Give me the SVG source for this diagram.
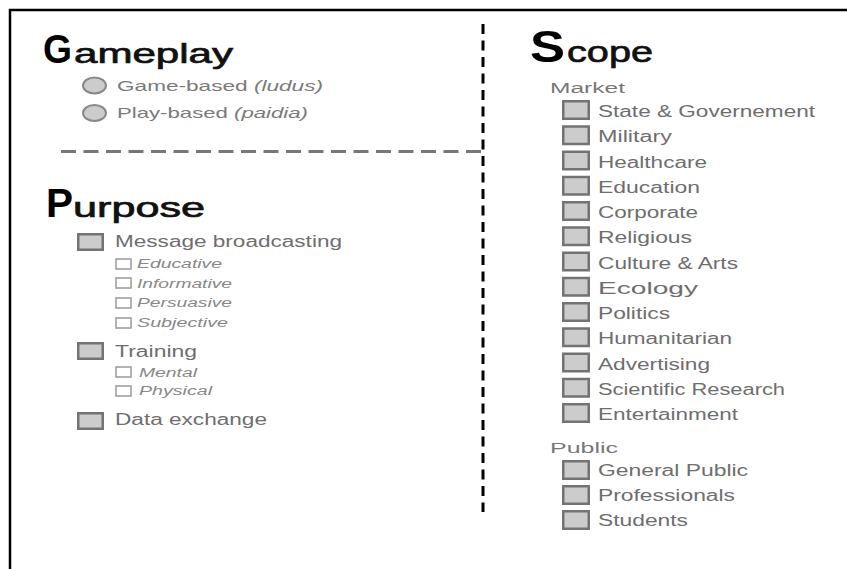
<svg xmlns="http://www.w3.org/2000/svg" width="847" height="569" viewBox="0 0 847 569">
<style>
text{font-family:"Liberation Sans",Arial,sans-serif}
.cap{font-size:41px;fill:#000;font-weight:bold}
.rest{font-size:28px;fill:#111;stroke:#111;stroke-width:0.7}
.item{font-size:16px;fill:#6e6e6e}
.sub{font-size:12px;fill:#888;font-style:italic}
.head{font-size:14px;fill:#777}
.opt{font-size:15px;fill:#7a7a7a}
.box{fill:#ccc;stroke:#737373;stroke-width:2.5}
.sbox{fill:#fff;stroke:#999;stroke-width:1.5}
.dot{fill:#ccc;stroke:#888;stroke-width:2}
</style>
<rect width="847" height="569" fill="#fff"/>
<g id="frame" fill="none" stroke="#000" stroke-width="2.5">
<path d="M10 569V10H847"/>
</g>
<g id="separators" fill="none">
<line x1="483" y1="24" x2="483" y2="512" stroke="#000" stroke-width="3" stroke-dasharray="10 6.5"/>
<line x1="61" y1="151.5" x2="483" y2="151.5" stroke="#777" stroke-width="3" stroke-dasharray="15 7.5"/>
</g>
<g id="gameplay">
<text x="43" y="63" class="cap" textLength="29" lengthAdjust="spacingAndGlyphs">G</text>
<text x="74" y="63" class="rest" textLength="159" lengthAdjust="spacingAndGlyphs">ameplay</text>
<g id="game-based"><ellipse class="dot" cx="94.5" cy="85.5" rx="11.5" ry="8"/><text x="117" y="91" class="opt" textLength="206" lengthAdjust="spacingAndGlyphs">Game-based <tspan font-style="italic">(ludus)</tspan></text></g>
<g id="play-based"><ellipse class="dot" cx="94.5" cy="113" rx="11.5" ry="8"/><text x="117" y="118" class="opt" textLength="191" lengthAdjust="spacingAndGlyphs">Play-based <tspan font-style="italic">(paidia)</tspan></text></g>
</g>
<g id="purpose">
<text x="46" y="217" class="cap" textLength="27" lengthAdjust="spacingAndGlyphs">P</text>
<text x="73" y="217" class="rest" textLength="132" lengthAdjust="spacingAndGlyphs">urpose</text>
<g id="message-broadcasting"><rect class="box" x="78.25" y="234.25" width="24.5" height="15.5"/><text x="115" y="247" class="item" textLength="227" lengthAdjust="spacingAndGlyphs">Message broadcasting</text></g>
<g id="educative"><rect class="sbox" x="116" y="259" width="15" height="10"/><text x="137" y="268" class="sub" textLength="85" lengthAdjust="spacingAndGlyphs">Educative</text></g>
<g id="informative"><rect class="sbox" x="116" y="278" width="15" height="10"/><text x="137" y="288" class="sub" textLength="95" lengthAdjust="spacingAndGlyphs">Informative</text></g>
<g id="persuasive"><rect class="sbox" x="116" y="298" width="15" height="10"/><text x="137" y="307" class="sub" textLength="95" lengthAdjust="spacingAndGlyphs">Persuasive</text></g>
<g id="subjective"><rect class="sbox" x="116" y="318" width="15" height="10"/><text x="137" y="327" class="sub" textLength="91" lengthAdjust="spacingAndGlyphs">Subjective</text></g>
<g id="training"><rect class="box" x="78.25" y="343.25" width="24.5" height="15.5"/><text x="115" y="357" class="item" textLength="82" lengthAdjust="spacingAndGlyphs">Training</text></g>
<g id="mental"><rect class="sbox" x="116" y="367" width="15" height="10"/><text x="139" y="377" class="sub" textLength="58" lengthAdjust="spacingAndGlyphs">Mental</text></g>
<g id="physical"><rect class="sbox" x="116" y="386" width="15" height="10"/><text x="139" y="395" class="sub" textLength="73" lengthAdjust="spacingAndGlyphs">Physical</text></g>
<g id="data-exchange"><rect class="box" x="78.25" y="413.25" width="24.5" height="15.5"/><text x="115" y="425" class="item" textLength="152" lengthAdjust="spacingAndGlyphs">Data exchange</text></g>
</g>
<g id="scope">
<text x="530" y="62" class="cap" style="font-size:44px" textLength="35" lengthAdjust="spacingAndGlyphs">S</text>
<text x="567" y="62" class="rest" style="font-size:30px" textLength="86" lengthAdjust="spacingAndGlyphs">cope</text>
<text x="550" y="93" class="head" textLength="75" lengthAdjust="spacingAndGlyphs">Market</text>
<g id="state"><rect class="box" x="563.25" y="101.25" width="25.5" height="17.5"/><text x="598" y="117" class="item" textLength="217" lengthAdjust="spacingAndGlyphs">State &amp; Governement</text></g>
<g id="military"><rect class="box" x="563.25" y="126.5" width="25.5" height="17.5"/><text x="598" y="142.25" class="item" textLength="74" lengthAdjust="spacingAndGlyphs">Military</text></g>
<g id="healthcare"><rect class="box" x="563.25" y="151.75" width="25.5" height="17.5"/><text x="598" y="167.5" class="item" textLength="109" lengthAdjust="spacingAndGlyphs">Healthcare</text></g>
<g id="education"><rect class="box" x="563.25" y="177" width="25.5" height="17.5"/><text x="598" y="192.75" class="item" textLength="102" lengthAdjust="spacingAndGlyphs">Education</text></g>
<g id="corporate"><rect class="box" x="563.25" y="202.25" width="25.5" height="17.5"/><text x="598" y="218" class="item" textLength="100" lengthAdjust="spacingAndGlyphs">Corporate</text></g>
<g id="religious"><rect class="box" x="563.25" y="227.5" width="25.5" height="17.5"/><text x="598" y="243.25" class="item" textLength="94" lengthAdjust="spacingAndGlyphs">Religious</text></g>
<g id="culture"><rect class="box" x="563.25" y="252.75" width="25.5" height="17.5"/><text x="598" y="268.5" class="item" textLength="140" lengthAdjust="spacingAndGlyphs">Culture &amp; Arts</text></g>
<g id="ecology"><rect class="box" x="563.25" y="278" width="25.5" height="17.5"/><text x="598" y="293.75" class="item" textLength="100" lengthAdjust="spacingAndGlyphs">Ecology</text></g>
<g id="politics"><rect class="box" x="563.25" y="303.25" width="25.5" height="17.5"/><text x="598" y="319" class="item" textLength="72" lengthAdjust="spacingAndGlyphs">Politics</text></g>
<g id="humanitarian"><rect class="box" x="563.25" y="328.5" width="25.5" height="17.5"/><text x="598" y="344.25" class="item" textLength="134" lengthAdjust="spacingAndGlyphs">Humanitarian</text></g>
<g id="advertising"><rect class="box" x="563.25" y="353.75" width="25.5" height="17.5"/><text x="598" y="369.5" class="item" textLength="112" lengthAdjust="spacingAndGlyphs">Advertising</text></g>
<g id="scientific"><rect class="box" x="563.25" y="379" width="25.5" height="17.5"/><text x="598" y="394.75" class="item" textLength="187" lengthAdjust="spacingAndGlyphs">Scientific Research</text></g>
<g id="entertainment"><rect class="box" x="563.25" y="404.25" width="25.5" height="17.5"/><text x="598" y="420" class="item" textLength="140" lengthAdjust="spacingAndGlyphs">Entertainment</text></g>
<text x="550" y="453" class="head" textLength="68" lengthAdjust="spacingAndGlyphs">Public</text>
<g id="general-public"><rect class="box" x="563.25" y="461.25" width="25.5" height="17.5"/><text x="598" y="476" class="item" textLength="150" lengthAdjust="spacingAndGlyphs">General Public</text></g>
<g id="professionals"><rect class="box" x="563.25" y="486.25" width="25.5" height="17.5"/><text x="598" y="501" class="item" textLength="137" lengthAdjust="spacingAndGlyphs">Professionals</text></g>
<g id="students"><rect class="box" x="563.25" y="511.25" width="25.5" height="17.5"/><text x="598" y="526" class="item" textLength="90" lengthAdjust="spacingAndGlyphs">Students</text></g>
</g>
</svg>
